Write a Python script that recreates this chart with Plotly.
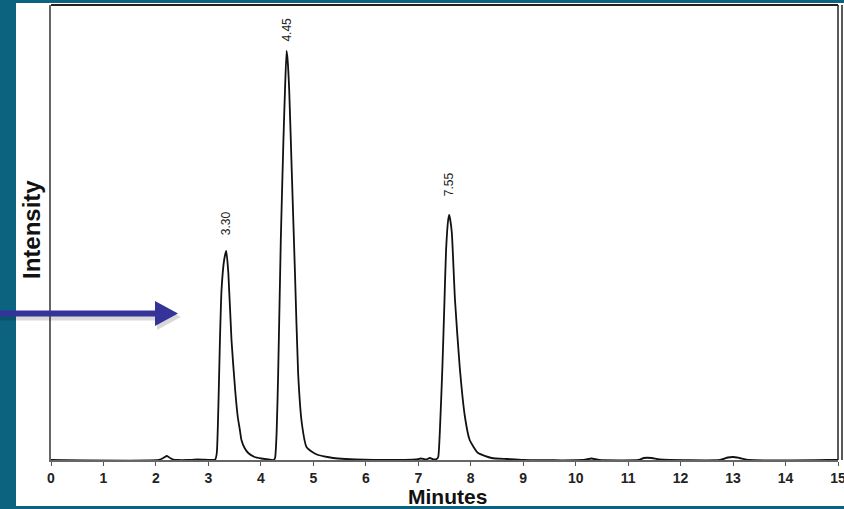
import plotly.graph_objects as go

# ---- data ----
time_min = [0.00, 2.05, 2.14, 2.21, 2.27, 2.33, 2.42, 2.60, 2.80, 3.05, 3.13,
            3.16, 3.19, 3.22, 3.25, 3.30, 3.34, 3.38, 3.44, 3.51, 3.56, 3.60, 3.63, 3.69, 3.76, 3.88, 4.01, 4.15, 4.24,
            4.27, 4.30, 4.33, 4.38, 4.43, 4.46, 4.49, 4.51, 4.54, 4.59, 4.65, 4.71, 4.78, 4.87, 4.98, 5.09, 5.27, 5.47, 5.80,
            6.50, 6.95, 7.05, 7.15, 7.22, 7.30, 7.35,
            7.38, 7.41, 7.46, 7.50, 7.53, 7.57, 7.59, 7.61, 7.64, 7.70, 7.79, 7.89, 7.98, 8.14, 8.40, 8.70,
            9.00, 10.15, 10.30, 10.45, 11.20, 11.30, 11.45, 11.60, 12.75, 12.90, 13.00, 13.12, 13.30, 14.80, 15.00]
intensity = [0, 0, 2, 4, 2, 0.5, 0, 0, 0.5, 0, 0.5,
             7, 53, 120, 170, 200, 209, 187, 120, 70, 43, 30, 20, 12, 7, 3, 1.5, 0.5, 0,
             2, 27, 87, 220, 320, 370, 409, 400, 370, 287, 187, 87, 37, 13, 8, 5, 3, 1.5, 0.5,
             0, 0.5, 1.5, 0.5, 2, 0.5, 1,
             3, 27, 93, 160, 210, 240, 245, 240, 227, 160, 93, 43, 20, 7, 2, 1,
             0, 0, 1.5, 0, 0, 2, 2, 0.5, 0, 2.5, 3, 2, 0, 0, 0]

peak_times = [3.34, 4.49, 7.59]
peak_heights = [209, 409, 245]
peak_labels = ["3.30", "4.45", "7.55"]
label_gaps = [14, 7, 17]  # pixel gap between apex and label

x_ticks = list(range(0, 16))

TEAL = "#0b6380"
ARROW = "#33339a"

fig = go.Figure()
fig.add_trace(go.Scatter(x=time_min, y=intensity, mode="lines",
                         line=dict(color="#111111", width=1.8, shape="spline", smoothing=0.5),
                         hoverinfo="skip", showlegend=False))

W, H = 844, 509
L, R, T, B = 51, 6, 5, 49
pw, ph = W - L - R, H - T - B

def px(xp):
    return (xp - L) / pw

def py(yp):
    return (H - B - yp) / ph

shapes = []
# white panel on teal slide background
shapes.append(dict(type="rect", xref="paper", yref="paper", x0=px(16), x1=px(846), y0=py(506), y1=py(3),
                   fillcolor="white", line=dict(width=0), layer="below"))
# top border and right double border
shapes.append(dict(type="line", xref="paper", yref="paper", x0=0, x1=1, y0=1, y1=1,
                   line=dict(color="#222222", width=2)))
shapes.append(dict(type="line", xref="paper", yref="paper", x0=1, x1=1, y0=0, y1=1,
                   line=dict(color="#222222", width=1.5)))
shapes.append(dict(type="line", xref="paper", yref="paper", x0=px(842), x1=px(842), y0=0, y1=1,
                   line=dict(color="#222222", width=1.5)))
# arrow shadow
shapes.append(dict(type="line", xref="paper", yref="paper", x0=px(0), x1=px(160), y0=py(317), y1=py(317),
                   line=dict(color="rgba(0,0,0,0.15)", width=7)))
shapes.append(dict(type="path", xref="paper", yref="paper",
                   path=f"M {px(157)} {py(305)} L {px(181)} {py(317)} L {px(157)} {py(330)} Z",
                   fillcolor="rgba(0,0,0,0.15)", line=dict(width=0)))
# arrow
shapes.append(dict(type="line", xref="paper", yref="paper", x0=px(0), x1=px(158), y0=py(313.5), y1=py(313.5),
                   line=dict(color=ARROW, width=6)))
shapes.append(dict(type="path", xref="paper", yref="paper",
                   path=f"M {px(155)} {py(301)} L {px(178)} {py(313.5)} L {px(155)} {py(326)} Z",
                   fillcolor=ARROW, line=dict(width=0)))

annotations = []
for t, h, lab, g in zip(peak_times, peak_heights, peak_labels, label_gaps):
    annotations.append(dict(x=t, y=h, xref="x", yref="y", text=lab, showarrow=False,
                            textangle=-90, yanchor="bottom", xanchor="center", yshift=g,
                            font=dict(family="Arial, Liberation Sans", size=12, color="#222222")))
annotations.append(dict(x=px(447), y=py(496.5), xref="paper", yref="paper", text="<b>Minutes</b>",
                        showarrow=False, xanchor="center", yanchor="middle",
                        font=dict(family="Arial, Liberation Sans", size=21, color="#111111")))
annotations.append(dict(x=px(31), y=py(230), xref="paper", yref="paper", text="<b>Intensity</b>",
                        showarrow=False, xanchor="center", yanchor="middle", textangle=-90,
                        font=dict(family="Arial, Liberation Sans", size=24, color="#111111")))

fig.update_layout(
    width=W, height=H,
    margin=dict(l=L, r=R, t=T, b=B, autoexpand=False),
    paper_bgcolor=TEAL, plot_bgcolor="white",
    shapes=shapes, annotations=annotations,
    xaxis=dict(range=[0, 15], tickvals=x_ticks, ticktext=[f"<b>{v}</b>" for v in x_ticks],
               ticks="outside", ticklen=4, tickcolor="#555555", tickwidth=1.2,
               ticklabeloverflow="allow", automargin=False,
               showline=True, linecolor="#666666", linewidth=2, showgrid=False, zeroline=False,
               tickfont=dict(family="Arial, Liberation Sans", size=14, color="#222222")),
    yaxis=dict(range=[0, ph], showticklabels=False, ticks="", showline=True, automargin=False,
               linecolor="#666666", linewidth=1.5, showgrid=False, zeroline=False),
)

fig.write_html("out.html", config={"displayModeBar": False},
               post_script="document.body.style.margin='0';document.body.style.overflow='hidden';")
